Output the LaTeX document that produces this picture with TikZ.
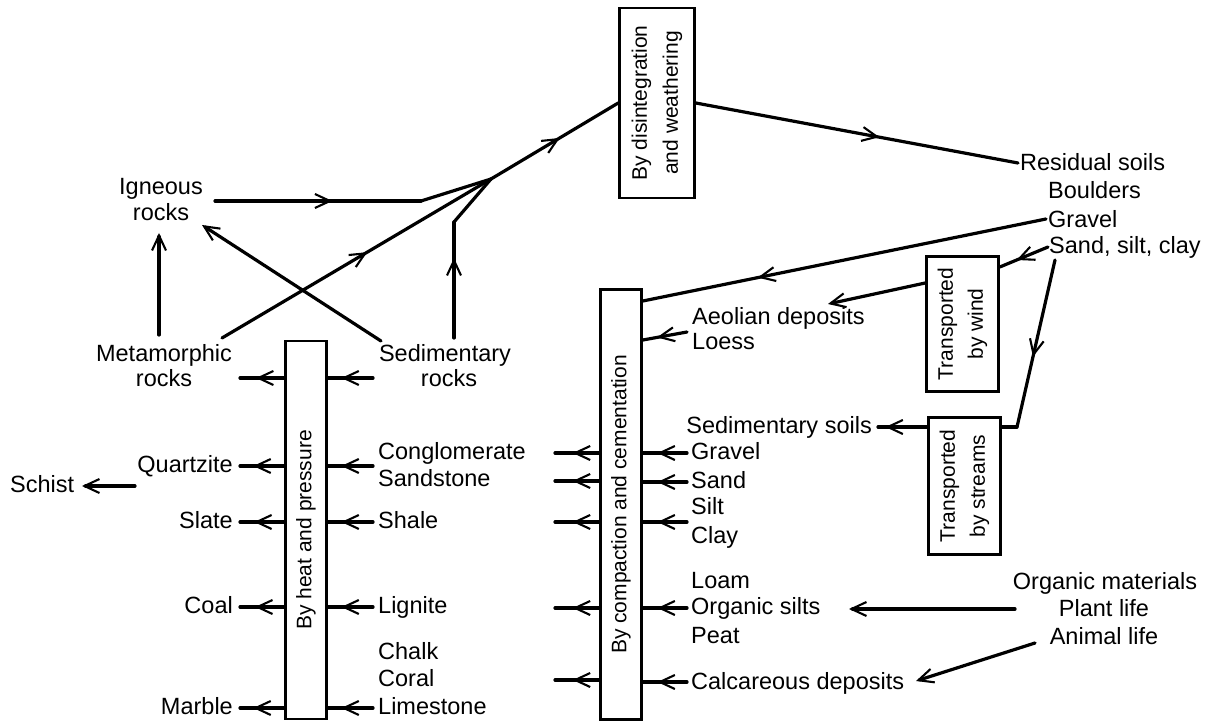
\documentclass[tikz,border=0pt]{standalone}
\usepackage{fontspec}
\setmainfont{Liberation Sans}
\usetikzlibrary{arrows.meta,decorations.markings}
\begin{document}
\begin{tikzpicture}[x=1pt,y=-1pt,
  conn/.style={line width=3.2pt, line cap=round},
  tipat/.style={postaction={decorate}, decoration={markings, mark=at position #1 with {\arrow[line width=2.1pt]{Straight Barb[length=15pt,width=14pt]}}}},
  endarr/.style={-{Straight Barb[length=15pt,width=14pt,line width=2.1pt]}},
  box/.style={draw, line width=2.6pt, inner sep=0pt},
  lbl/.style={font=\fontsize{23.5pt}{26pt}\selectfont, inner sep=0pt},
  rot/.style={rotate=90, align=center, font=\fontsize{21pt}{30pt}\selectfont, inner sep=0pt},
]
\path[fill=white] (0,0) rectangle (1216,722);
\useasboundingbox (0,0) rectangle (1216,722);

% ---------- boxes ----------
\node[box, minimum width=75pt, minimum height=190pt] (weather) at (657,103) {};
\node[rot, font=\fontsize{21pt}{31pt}\selectfont] (weatherT) at (weather.center) {By disintegration\\and weathering};
\node[box, minimum width=41pt, minimum height=378pt] (heat) at (306,530) {};
\node[rot] (heatT) at (heat.center) {By heat and pressure};
\node[box, minimum width=41pt, minimum height=430pt] (comp) at (621,504.5) {};
\node[rot] (compT) at (comp.center) {By compaction and cementation};
\node[box, minimum width=72pt, minimum height=135pt] (wind) at (962.5,324) {};
\node[rot] (windT) at (wind.center) {Transported\\by wind};
\node[box, minimum width=72pt, minimum height=137pt] (streams) at (964.5,486) {};
\node[rot] (streamsT) at (streams.center) {Transported\\by streams};

% ---------- texts ----------
\node[lbl, anchor=base] (ign1) at (161,194.5) {Igneous};
\node[lbl, anchor=base] (ign2) at (161,220.5) {rocks};
\node[lbl, anchor=base] (met1) at (164,361.5) {Metamorphic};
\node[lbl, anchor=base] (met2) at (164,386) {rocks};
\node[lbl, anchor=base] (sed1) at (445,361.5) {Sedimentary};
\node[lbl, anchor=base] (sed2) at (449,386.5) {rocks};

\node[lbl, anchor=base east] (qtz) at (233,472.5) {Quartzite};
\node[lbl, anchor=base west] (schist) at (10,492.5) {Schist};
\node[lbl, anchor=base east] (slate) at (233,528.5) {Slate};
\node[lbl, anchor=base east] (coal) at (233,613.5) {Coal};
\node[lbl, anchor=base east] (marble) at (233,714.5) {Marble};

\node[lbl, anchor=base west] (cong) at (378,459.5) {Conglomerate};
\node[lbl, anchor=base west] (sandst) at (378,486.5) {Sandstone};
\node[lbl, anchor=base west] (shale) at (378,528.5) {Shale};
\node[lbl, anchor=base west] (lign) at (378,613.5) {Lignite};
\node[lbl, anchor=base west] (chalk) at (378,659.5) {Chalk};
\node[lbl, anchor=base west] (coral) at (378,686.5) {Coral};
\node[lbl, anchor=base west] (limest) at (378,714.5) {Limestone};

\node[lbl, anchor=base west] (aeol) at (692,324.5) {Aeolian deposits};
\node[lbl, anchor=base west] (loess) at (692,349.5) {Loess};
\node[lbl, anchor=base east] (sedsoil) at (872,433.5) {Sedimentary soils};
\node[lbl, anchor=base west] (grav) at (691,459.5) {Gravel};
\node[lbl, anchor=base west] (sand) at (691,488.5) {Sand};
\node[lbl, anchor=base west] (silt) at (691,514.5) {Silt};
\node[lbl, anchor=base west] (clay) at (691,543.5) {Clay};
\node[lbl, anchor=base west] (loam) at (691,588.5) {Loam};
\node[lbl, anchor=base west] (orgs) at (691,614.5) {Organic silts};
\node[lbl, anchor=base west] (peat) at (691,643.5) {Peat};
\node[lbl, anchor=base west] (calc) at (691,689.5) {Calcareous deposits};

\node[lbl, anchor=base west] (resid) at (1020,170.5) {Residual soils};
\node[lbl, anchor=base west] (bould) at (1048,198.5) {Boulders};
\node[lbl, anchor=base west] (grav2) at (1048,227.5) {Gravel};
\node[lbl, anchor=base west] (ssc) at (1049,253.5) {Sand, silt, clay};

\node[lbl, anchor=base] (orgm) at (1105,589.5) {Organic materials};
\node[lbl, anchor=base] (plant) at (1104,616.5) {Plant life};
\node[lbl, anchor=base] (animal) at (1104,644.5) {Animal life};

% ---------- named connector ends ----------
\coordinate (ignO) at (215,201);
\coordinate (ibend) at (421,201);
\coordinate (J) at (491,179);
\coordinate (metO) at (222,338);
\coordinate (sedO) at (454,338);
\coordinate (sbend) at (454,222);
\coordinate (residI) at (1018,163);
\coordinate (metUp) at (159,335);
\coordinate (ignIn) at (159,233);
\coordinate (sedX) at (381,341);
\coordinate (ignX) at (202,225);
\coordinate (schistFrom) at (135,486);
\coordinate (schistTo) at (82,486);
\coordinate (gravO) at (1046,219);
\coordinate (sscW) at (1048,247);
\coordinate (sscS) at (1055,260);
\coordinate (sbend2) at (1017,427);
\coordinate (aeolIn) at (828,304);
\coordinate (aeolO) at (687,332);
\coordinate (sedsoilIn) at (878,427);
\coordinate (orgmO) at (1015,609);
\coordinate (orgsIn) at (849,609);
\coordinate (animO) at (1035,643);
\coordinate (calcIn) at (916,681);

% ---------- top connectors ----------
\draw[conn, tipat=0.57] (ignO) -- (ibend);
\draw[conn] (ibend) -- (J);
\draw[conn, tipat=0.54] (metO) -- (J);
\draw[conn, tipat=0.69] (sedO) -- (sbend);
\draw[conn] (sbend) -- (J);
\draw[conn, tipat=0.54] (J) -- (weather.west |- 0,103);
\draw[conn, tipat=0.57] (weather.east |- 0,103) -- (residI);
\draw[conn, endarr] (metUp) -- (ignIn);
\draw[conn, endarr] (sedX) -- (ignX);

% ---------- heat and pressure ----------
\foreach \yy/\tp in {378/0.64, 466/0.7, 522/0.68, 607/0.66, 708/0.7}{
  \draw[conn, tipat=\tp] (heat.west |- 0,\yy) -- (240,\yy);
}
\foreach \yy in {378, 466, 522, 607, 708}{
  \draw[conn, tipat=0.7] (373,\yy) -- (heat.east |- 0,\yy);
}
\draw[conn, endarr] (schistFrom) -- (schistTo);

% ---------- compaction and cementation ----------
\foreach \yy in {453, 481, 522, 608, 680}{
  \draw[conn, tipat=0.6] (comp.west |- 0,\yy) -- (555,\yy);
}
\foreach \yy in {453, 482, 522, 608, 682}{
  \draw[conn, tipat=0.67] (687,\yy) -- (comp.east |- 0,\yy);
}
\draw[conn, tipat=0.68] (aeolO) -- (comp.east |- 0,340);
\draw[conn, tipat=0.715] (gravO) -- (comp.east |- 0,301);

% ---------- transport ----------
\draw[conn, tipat=0.65] (sscW) -- (wind.east |- 0,267);
\draw[conn, endarr] (wind.west |- 0,283) -- (aeolIn);
\draw[conn, tipat=0.58] (sscS) -- (sbend2);
\draw[conn] (sbend2) -- (streams.east |- 0,427);
\draw[conn, tipat=0.85] (streams.west |- 0,427) -- (sedsoilIn);
\draw[conn, endarr] (orgmO) -- (orgsIn);
\draw[conn, endarr] (animO) -- (calcIn);
\end{tikzpicture}
\end{document}
